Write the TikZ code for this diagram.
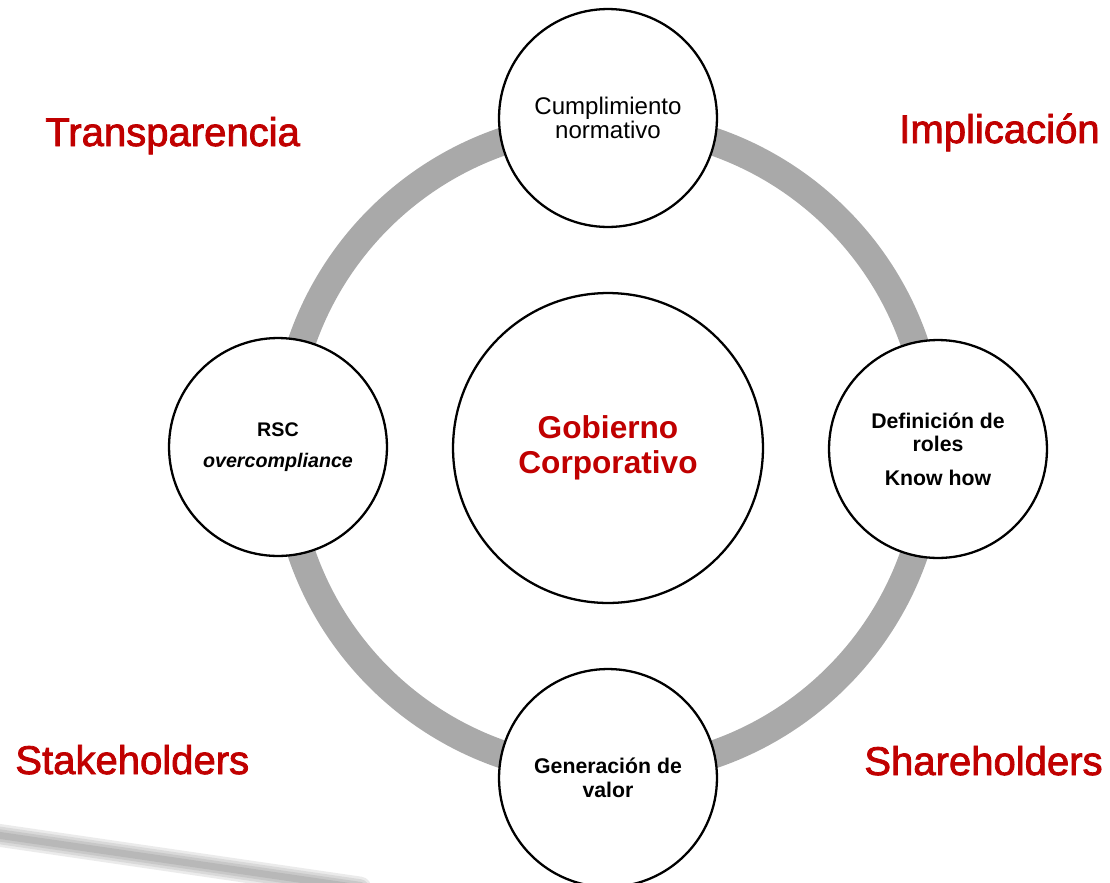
\documentclass[tikz,border=0pt]{standalone}
\usepackage{fontspec}
\setmainfont{Liberation Sans}
\newfontfamily\cornerfont[FakeBold=2]{Liberation Sans}
\usepackage{tikz}
\usetikzlibrary{positioning}

\begin{document}
\begin{tikzpicture}
		[x=0.02cm,y=-0.02cm,line cap=round,
		%Styles
		ring line/.style={line width=15.9pt,draw=ringgray},
		streak/.style={line width=#1,draw=black,opacity=0.08},
		main node/.style={circle,draw,fill=white,line width=1.3pt,minimum size=6.2cm,inner sep=0pt,align=center,text=corpred,font=\bfseries\fontsize{18}{19.9}\selectfont},
		inner node/.style={circle,draw,fill=white,line width=1.3pt,minimum size=4.36cm,inner sep=0pt,align=center},
		corner text/.style={inner sep=0pt,text=corpred,font=\cornerfont\fontsize{22.8}{27}\selectfont}
		]
		
		%Colors
		\definecolor{corpred}{RGB}{192,0,0}	%titles
		\definecolor{ringgray}{RGB}{169,169,169}	%ring
		
		\useasboundingbox (0,0) rectangle (1110,883);
		
		%The background streak
		\foreach \w in {13pt,10pt,7pt,4pt}
			\draw[streak=\w] (-10,834) -- (360,888);
		
		%The ring
		\coordinate (O) at (608,448);
		\draw[ring line] (O) circle[radius=324];
		
		%The graphic
		\node[main node] (G) at (O) {Gobierno\\Corporativo};
		\node[inner node,font=\fontsize{13.7}{12.7}\selectfont] (C) at (608,118) {Cumplimiento\\normativo};
		\node[inner node,font=\bfseries\fontsize{11.2}{13}\selectfont] (R) at (278,447) {RSC\\[4.6pt]\textit{overcompliance}};
		\node[inner node,font=\bfseries\fontsize{12.1}{13.1}\selectfont] (D) at (938,449) {Definición de\\roles\\[6.2pt]Know how};
		\node[inner node,font=\bfseries\fontsize{12.1}{13.7}\selectfont] (V) at (608,778) {Generación de\\valor};
		
		\node[corner text,anchor=base west] (T) at (45,146) {Transparencia};
		\node[corner text,anchor=base east] (I) at (1100,143) {Implicación};
		\node[corner text,anchor=base west] (S) at (15,774) {Stakeholders};
		\node[corner text,anchor=base east] (H) at (1103,775) {Shareholders};
	\end{tikzpicture}
\end{document}
